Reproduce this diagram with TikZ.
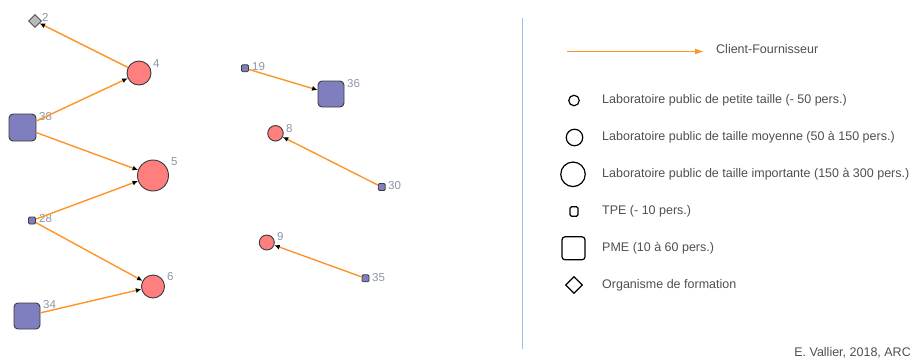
\documentclass[tikz,border=0pt]{standalone}
\usepackage{fontspec}
\setmainfont{Liberation Sans}
\usetikzlibrary{arrows.meta,shapes.geometric}
\definecolor{edgeor}{HTML}{FF9526}
\definecolor{labfill}{HTML}{FF7F7F}
\definecolor{entfill}{HTML}{7F7FBF}
\definecolor{nodeline}{HTML}{3A3A3A}
\definecolor{numcol}{HTML}{8A97A8}
\definecolor{legtext}{HTML}{505050}
\definecolor{divline}{HTML}{9CC0E6}
\tikzset{
  x=1pt,y=-1pt,
  lab/.style={circle,draw=nodeline,fill=labfill,line width=0.9pt,inner sep=0pt},
  ent/.style={rectangle,draw=nodeline,fill=entfill,line width=0.9pt,inner sep=0pt,rounded corners=4pt},
  tpe/.style={rectangle,draw=nodeline,fill=entfill,line width=0.8pt,inner sep=0pt,rounded corners=1.2pt,minimum size=7pt},
  form/.style={diamond,draw=nodeline,fill=gray!55,line width=0.8pt,inner sep=0pt,minimum size=13pt},
  num/.style={anchor=west,text=numcol,font=\fontsize{11.5}{12}\selectfont,inner sep=0pt},
  edge/.style={draw=edgeor,line width=1.4pt,-{Latex[color=black,length=5.5pt,width=5pt]},shorten >=0pt},
  legsym/.style={draw=black,fill=white,line width=1.2pt,inner sep=0pt},
  legtxt/.style={anchor=west,text=legtext,font=\fontsize{12.5}{14}\selectfont,inner sep=0pt},
}
\begin{document}
\begin{tikzpicture}
\useasboundingbox[fill=white] (0,0) rectangle (912,359);
% nodes
\node[form] (n2) at (35,21) {};
\node[lab,minimum size=24pt] (n4) at (139,73) {};
\node[ent,minimum size=27pt] (n38) at (22.5,127.5) {};
\node[lab,minimum size=31pt] (n5) at (153,175.5) {};
\node[tpe] (n28) at (32,220.5) {};
\node[lab,minimum size=23pt] (n6) at (153,286.5) {};
\node[ent,minimum size=26pt] (n34) at (27,316) {};
\node[tpe] (n19) at (245,68.3) {};
\node[ent,minimum size=26pt] (n36) at (331,94) {};
\node[lab,minimum size=15.5pt] (n8) at (275.5,133.3) {};
\node[tpe] (n30) at (381.7,187) {};
\node[lab,minimum size=15pt] (n9) at (266.8,242.5) {};
\node[tpe] (n35) at (365.5,278.3) {};
% labels
\node[num] (l2) at (42,17) {2};
\node[num] (l4) at (153,64) {4};
\node[num] (l38) at (39,117) {38};
\node[num] (l5) at (171,162) {5};
\node[num] (l28) at (39,219) {28};
\node[num] (l6) at (167,277) {6};
\node[num] (l34) at (43,305) {34};
\node[num] (l19) at (252,67) {19};
\node[num] (l36) at (347,84) {36};
\node[num] (l8) at (286,129) {8};
\node[num] (l30) at (388,186) {30};
\node[num] (l9) at (277,237) {9};
\node[num] (l35) at (372,278) {35};
% edges
\draw[edge] (n4) -- (n2);
\draw[edge] (n38) -- (n4);
\draw[edge] (n38) -- (n5);
\draw[edge] (n28) -- (n5);
\draw[edge] (n28) -- (n6);
\draw[edge] (n34) -- (n6);
\draw[edge] (n19) -- (n36);
\draw[edge] (n30) -- (n8);
\draw[edge] (n35) -- (n9);
% divider
\coordinate (d1) at (522,18);
\coordinate (d2) at (522,349);
\draw[divline,line width=1pt] (d1) -- (d2);
% legend
\coordinate (a1) at (567,51.5);
\coordinate (a2) at (704,51.5);
\draw[draw=edgeor,line width=1.2pt,-{Latex[length=9pt,width=6pt]}] (a1) -- (a2);
\node[legtxt] (t0) at (716,49) {Client-Fournisseur};
\node[legsym,circle,minimum size=10.5pt] (s1) at (574,100.5) {};
\node[legtxt] (t1) at (602,100.5) {Laboratoire public de petite taille (- 50 pers.)};
\node[legsym,circle,minimum size=16.5pt] (s2) at (574.5,137.5) {};
\node[legtxt] (t2) at (602,137.5) {Laboratoire public de taille moyenne (50 à 150 pers.)};
\node[legsym,circle,minimum size=24.5pt] (s3) at (573,174.3) {};
\node[legtxt] (t3) at (602,174.3) {Laboratoire public de taille importante (150 à 300 pers.)};
\node[legsym,rectangle,rounded corners=1.5pt,minimum width=8pt,minimum height=9.5pt] (s4) at (574,211.5) {};
\node[legtxt] (t4) at (602,211.5) {TPE (- 10 pers.)};
\node[legsym,rectangle,rounded corners=3pt,minimum size=23pt] (s5) at (573.5,248.3) {};
\node[legtxt] (t5) at (602,248.3) {PME (10 à 60 pers.)};
\node[legsym,diamond,minimum size=17pt] (s6) at (574,285) {};
\node[legtxt] (t6) at (602,285) {Organisme de formation};
\node[legtxt,anchor=base east] (foot) at (911,356.5) {E. Vallier, 2018, ARC};
\end{tikzpicture}
\end{document}
